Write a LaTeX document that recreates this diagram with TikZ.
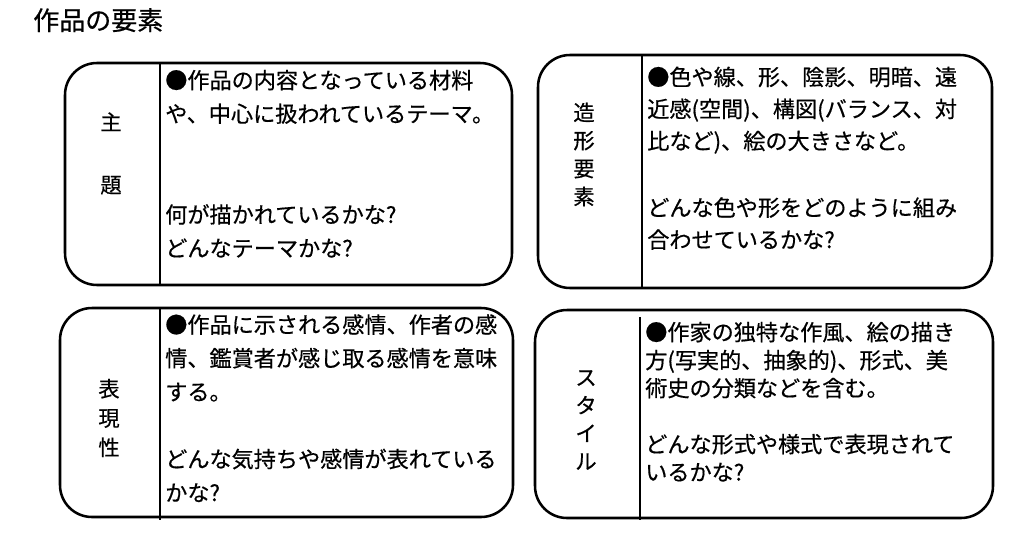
\documentclass[tikz,border=0pt]{standalone}
\usepackage{fontspec}
\setmainfont{Noto Sans CJK JP}
\newfontfamily\jpfont[FakeBold=0.5]{Noto Sans CJK JP}
\usetikzlibrary{positioning}

\begin{document}
\begin{tikzpicture}[x=0.75pt, y=-0.75pt,
  panel/.style={draw=black, line width=1.9pt, rounded corners=24pt},
  divider/.style={draw=black, line width=0.9pt},
  label/.style={align=center, inner sep=0pt},
  body/.style={align=left, anchor=base west, inner sep=0pt}]
\useasboundingbox (0,0) rectangle (1024,550);
% title
\node[anchor=base west, inner sep=0pt, font=\jpfont\fontsize{19.5pt}{23pt}\selectfont] (title) at (33,30) {作品の要素};
% theme (base = last line)
\draw[panel] (65,63) rectangle (512,285);
\draw[divider] (160,63) -- (160,285);
\node[label, font=\jpfont\fontsize{16pt}{47pt}\selectfont] (theme) at (111,153.5) {主\\題};
\node[body, font=\jpfont\fontsize{16.6pt}{25.2pt}\selectfont] (themetext) at (165,256.5) {●作品の内容となっている材料\\や、中心に扱われているテーマ。\\[50.4pt]何が描かれているかな?\\どんなテーマかな?};
% formal elements
\draw[panel] (538,55) rectangle (992,288);
\draw[divider] (642,55) -- (642,288);
\node[label, font=\jpfont\fontsize{16pt}{21pt}\selectfont] (form) at (584,154.5) {造\\形\\要\\素};
\node[body, font=\jpfont\fontsize{16.6pt}{24pt}\selectfont] (formtext) at (647,248) {●色や線、形、陰影、明暗、遠\\近感(空間)、構図(バランス、対\\比など)、絵の大きさなど。\\[26pt]どんな色や形をどのように組み\\合わせているかな?};
% expression
\draw[panel] (60,308) rectangle (513,517);
\draw[divider] (160,308) -- (160,520);
\node[label, font=\jpfont\fontsize{16pt}{22pt}\selectfont] (expr) at (109,418) {表\\現\\性};
\node[body, font=\jpfont\fontsize{16.6pt}{25.2pt}\selectfont] (exprtext) at (165,501) {●作品に示される感情、作者の感\\情、鑑賞者が感じ取る感情を意味\\する。\\[25.2pt]どんな気持ちや感情が表れている\\かな?};
% style
\draw[panel] (535,310) rectangle (993,518);
\draw[divider] (640,317) -- (640,520);
\node[label, font=\jpfont\fontsize{16pt}{21pt}\selectfont] (stylelabel) at (586,420) {ス\\タ\\イ\\ル};
\node[body, font=\jpfont\fontsize{16.6pt}{21pt}\selectfont] (styletext) at (645,480.5) {●作家の独特な作風、絵の描き\\方(写実的、抽象的)、形式、美\\術史の分類などを含む。\\[21pt]どんな形式や様式で表現されて\\いるかな?};
\end{tikzpicture}
\end{document}
